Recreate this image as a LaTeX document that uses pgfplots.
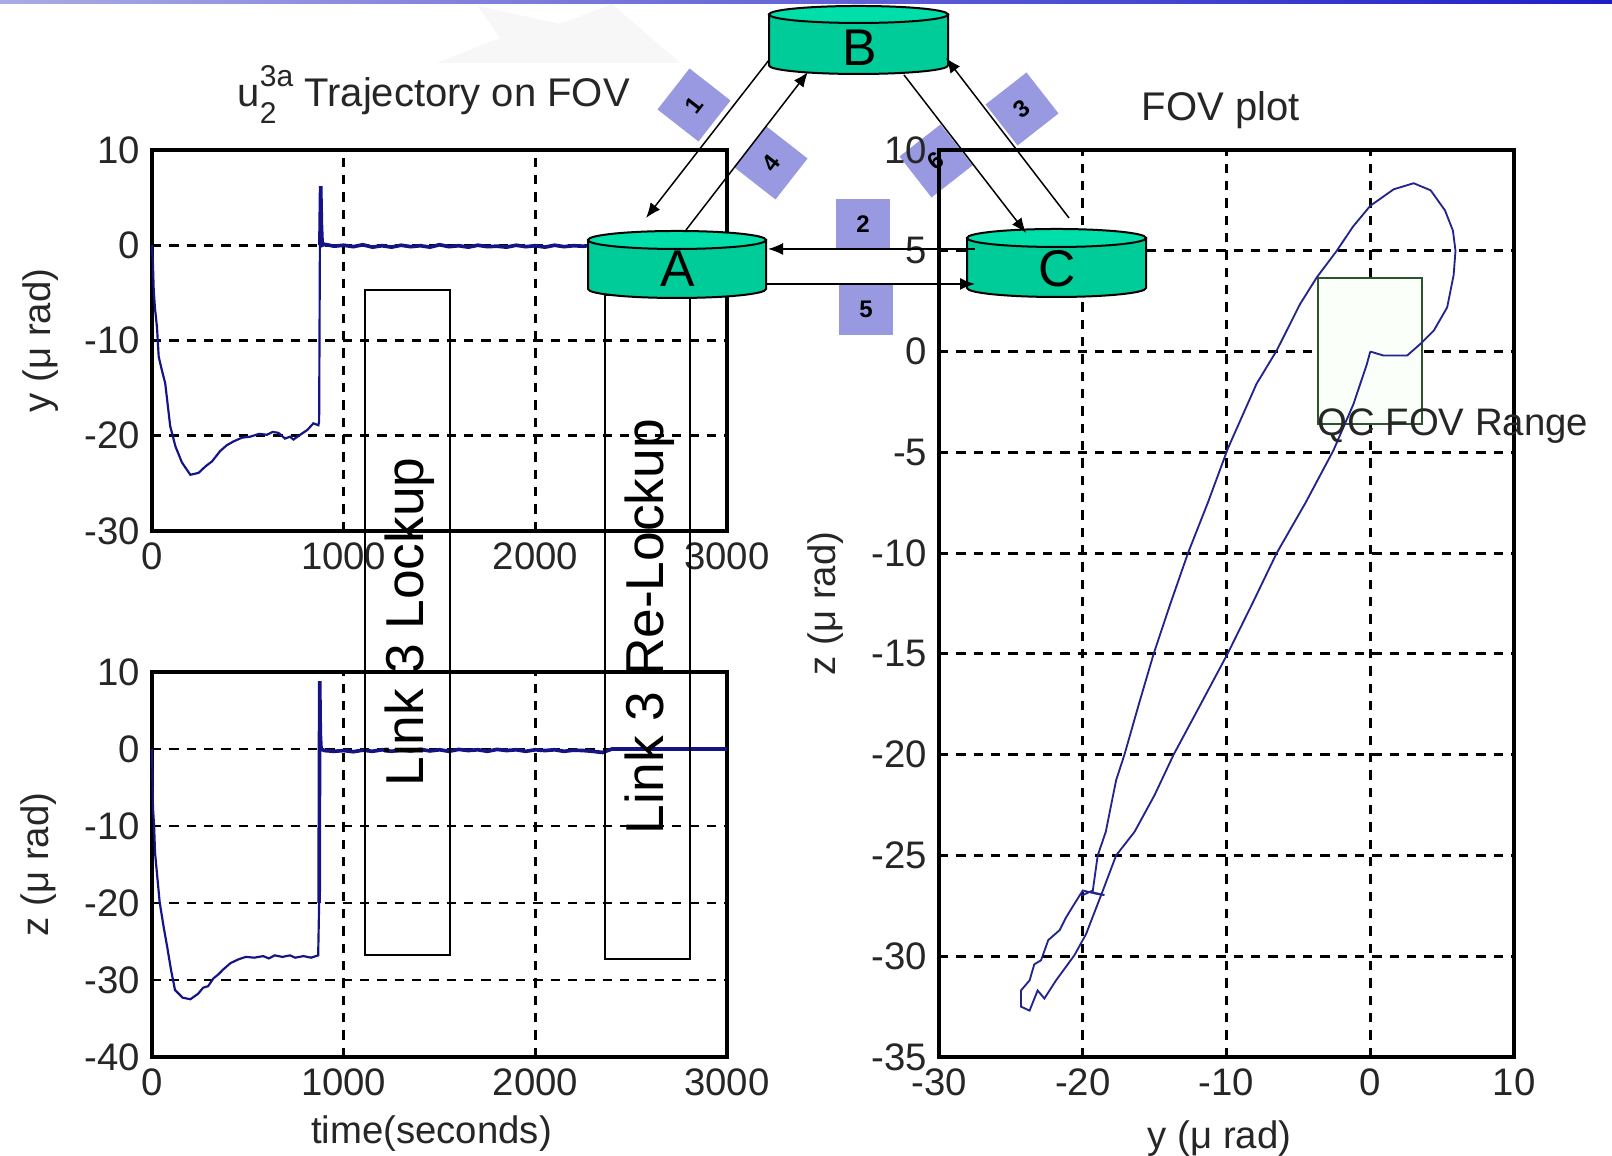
\documentclass[border=0pt]{standalone}
\usepackage{fontspec}
\setmainfont{Liberation Sans}
\usepackage{pgfplots}
\pgfplotsset{compat=1.18}
\usetikzlibrary{arrows.meta}
\definecolor{navy}{RGB}{20,20,135}
\definecolor{fovline}{RGB}{35,35,140}
\definecolor{cylbody}{RGB}{0,204,153}
\definecolor{cyltop}{RGB}{0,222,170}
\definecolor{lav}{RGB}{153,153,225}
\definecolor{qcgreen}{RGB}{45,85,45}
\newcommand{\lbl}{\fontsize{11.5}{13}\selectfont}
\newcommand{\ttl}{\fontsize{12}{14}\selectfont}
\pgfplotsset{
  matlab/.style={
    scale only axis,
    anchor=south west,
    clip=false,
    axis line style={line width=1pt},
    grid=major,
    major grid style={black, line width=0.85pt, dash pattern=on 2.8pt off 2.4pt},
    major tick length=0pt,
    tick label style={font=\lbl, color=black!85},
    label style={font=\lbl, color=black!85},
    title style={font=\ttl, color=black!85},
  }
}
\begin{document}
\begin{tikzpicture}
\useasboundingbox (0,0) rectangle (483.6pt,346.8pt);
\fill[white] (0,0) rectangle (483.6pt,346.8pt);
\begin{scope}[x=0.3pt,y=-0.3pt,shift={(0pt,346.8pt)}]
  % watermark
  \fill[black!3] (437,63) -- (500,38) -- (478,6) -- (560,24) -- (612,4) -- (680,63) -- cycle;
  % top bar
  \shade[left color={rgb,255:red,170;green,170;blue,230}, right color={rgb,255:red,30;green,30;blue,200}] (0,0) rectangle (1612,3.5);
  % diamonds and squares
  \begin{scope}[every node/.style={fill=lav, inner sep=0pt, font=\bfseries\fontsize{7.2}{8}\selectfont}]
    \node[minimum size=15.6pt, rotate=52] at (694,105) {1};
    \node[minimum size=15.6pt, rotate=52] at (771,163) {4};
    \node[minimum size=15.6pt, rotate=38] at (1022,109) {3};
    \node[minimum size=15.6pt, rotate=38] at (936,161) {6};
    \node[minimum width=16.2pt, minimum height=15.3pt] at (863,224.5) {2};
    \node[minimum width=16.2pt, minimum height=15.3pt] at (866,309.5) {5};
  \end{scope}
\end{scope}

% ---------- top-left: y vs time ----------
\begin{axis}[matlab, at={(45.6pt,187.5pt)}, width=172.5pt, height=114.3pt,
  xmin=0, xmax=3000, ymin=-30, ymax=10,
  xtick={0,1000,2000,3000}, xticklabels={0,1000,2000,3000},
  ytick={-30,-20,-10,0,10}, yticklabels={-30,-20,-10,0,10},
  ylabel={y (μ rad)}, ylabel style={at={(axis description cs:-0.193,0.5)}, anchor=center},
  title={u\rlap{\raisebox{-0.42em}{\fontsize{9}{10}\selectfont 2}}\raisebox{0.5em}{\fontsize{9}{10}\selectfont 3a} Trajectory on FOV},
  title style={at={(axis description cs:0.49,1.062)}, anchor=base},
]
\addplot[navy, line width=0.65pt] coordinates {
(0,0) (5,-2) (9,-4.7) (15,-6.5) (26,-8.6) (35,-11.7) (50,-13) (69,-14.5) (95,-19) (122,-21.1)
(156,-22.8) (200,-24.1) (243,-23.9) (280,-23.2) (313,-22.7) (356,-21.6) (390,-21) (425,-20.6)
(470,-20.2) (512,-20.1) (560,-19.8) (599,-19.9) (630,-19.6) (660,-19.7) (694,-20.3) (720,-20.1)
(738,-20.4) (773,-19.9) (810,-19.4) (842,-18.7) (868,-18.9) (872,-18.5) (876,0)
};
\addplot[navy, line width=1.1pt] coordinates {
(876,0) (880,6.2) (884,2)
(888,0) (900,0.1) (950,-0.1) (1000,0) (1050,-0.15) (1100,0.05) (1150,-0.2) (1200,-0.05) (1250,-0.2)
(1300,0) (1350,-0.15) (1400,-0.05) (1450,-0.2) (1500,0.05) (1550,-0.15) (1600,-0.05) (1650,-0.2)
(1700,0) (1750,-0.15) (1800,-0.1) (1850,-0.2) (1900,0) (1950,-0.15) (2000,-0.05) (2050,-0.2)
(2100,0) (2150,-0.15) (2200,-0.05) (2250,-0.1) (2300,0) (2350,-0.1) (2400,0) (2600,0) (2800,0) (3000,0)
};
\end{axis}

% ---------- bottom-left: z vs time ----------
\begin{axis}[matlab, at={(45.6pt,29.7pt)}, width=172.5pt, height=115.5pt,
  xmin=0, xmax=3000, ymin=-40, ymax=10,
  xtick={0,1000,2000,3000}, xticklabels={0,1000,2000,3000},
  ytick={-40,-30,-20,-10,0,10}, yticklabels={-40,-30,-20,-10,0,10},
  ylabel={z (μ rad)}, ylabel style={at={(axis description cs:-0.197,0.5)}, anchor=center},
  xlabel={time(seconds)}, xlabel style={at={(axis description cs:0.486,-0.2)}, anchor=center},
]
\addplot[navy, line width=0.65pt] coordinates {
(0,0) (3,-4) (5,-7.6) (11,-10) (16,-13.5) (40,-19.9) (60,-23) (80,-25.8) (100,-28.8) (120,-31.3)
(160,-32.3) (200,-32.5) (240,-31.8) (267,-31) (293,-30.8) (320,-29.8) (345,-29.3) (373,-28.6)
(410,-27.8) (453,-27.3) (490,-27.0) (533,-27.1) (580,-26.9) (610,-27.2) (640,-26.8) (680,-27.0)
(720,-26.8) (747,-27.1) (790,-26.9) (830,-27.1) (867,-26.8) (872,-20)
};
\addplot[navy, line width=1.1pt] coordinates {
(872,-20) (875,8.8) (878,2) (882,0)
(900,-0.2) (950,-0.3) (1000,-0.2) (1050,-0.35) (1100,-0.15) (1150,-0.3) (1200,-0.1) (1250,-0.3)
(1300,-0.1) (1350,-0.25) (1400,-0.05) (1450,-0.25) (1500,-0.1) (1550,-0.3) (1600,-0.05) (1650,-0.2)
(1700,-0.1) (1750,-0.3) (1800,-0.05) (1850,-0.2) (1900,-0.1) (1950,-0.3) (2000,-0.1) (2050,-0.2)
(2100,-0.1) (2150,-0.3) (2200,-0.15) (2250,-0.2) (2300,-0.3) (2350,-0.45) (2400,0) (2600,0) (2800,0) (3000,0)
};
\end{axis}

% ---------- right: FOV plot ----------
\begin{axis}[matlab, at={(281.7pt,29.7pt)}, width=172.5pt, height=272.1pt,
  xmin=-30, xmax=10, ymin=-35, ymax=10,
  xtick={-30,-20,-10,0,10}, xticklabels={-30,-20,-10,0,10},
  ytick={-35,-30,-25,-20,-15,-10,-5,0,5,10},
  yticklabels={-35,-30,-25,-20,-15,-10,-5,0,5,10},
  ylabel={z (μ rad)}, ylabel style={at={(axis description cs:-0.197,0.5)}, anchor=center},
  xlabel={y (μ rad)}, xlabel style={at={(axis description cs:0.488,-0.09)}, anchor=center},
  title={FOV plot}, title style={at={(axis description cs:0.49,1.011)}, anchor=base},
]
\draw[qcgreen, line width=0.6pt, fill=green!2] (axis cs:-3.65,-3.6) rectangle (axis cs:3.6,3.65);
\addplot[fovline, line width=0.55pt] coordinates {
(0,0) (-0.23,-0.61) (-1.16,-2.59) (-2.56,-4.9) (-4.5,-7.5) (-6.51,-10) (-8.2,-12.5) (-9.93,-15)
(-11.8,-17.5) (-13.68,-20) (-15.0,-22) (-16.4,-23.83) (-17.68,-25) (-18.6,-26.74) (-19.77,-28.9)
(-20.58,-29.95) (-21.86,-31.2) (-22.67,-32.1) (-23.14,-31.7) (-23.7,-32.7) (-24.3,-32.5) (-24.3,-31.7)
(-23.7,-31.2) (-23.37,-30.4) (-22.9,-30.2) (-22.4,-29.2) (-21.6,-28.7) (-21.16,-28.07) (-20.58,-27.4)
(-20.0,-26.74) (-19.07,-26.9) (-18.49,-26.97) (-19.5,-26.8) (-20.1,-27.0) (-19.3,-26.74)
(-18.96,-25) (-18.4,-23.83) (-17.68,-21.27) (-17.1,-20) (-16.1,-17.5) (-15.07,-15) (-13.9,-12.5)
(-12.68,-10) (-11.3,-7.5) (-9.9,-4.8) (-7.91,-1.6) (-6.51,0.05) (-4.88,2.36) (-3.72,3.68) (-2.33,5.0)
(-1.2,6.2) (0,7.23) (1.63,8.05) (3.02,8.35) (4.2,8.0) (5.2,7.0) (5.75,6.0) (5.93,5.0) (5.8,3.8)
(5.35,2.19) (4.42,1.04) (3.49,0.38) (2.56,-0.2) (0.93,-0.2) (0,0)
};
\node[anchor=base west, font=\lbl, color=black!85, inner sep=0pt] at (axis cs:-3.72,-4.17) {QC FOV Range};
\end{axis}

% ---------- overlay diagram ----------
\begin{scope}[x=0.3pt,y=-0.3pt,shift={(0pt,346.8pt)}]
  % Link boxes
  \draw[black, line width=0.45pt] (365,290) rectangle (450,955);
  \draw[black, line width=0.45pt] (605,295) rectangle (690,959);
  \node[rotate=90, anchor=base, inner sep=0pt, font=\fontsize{16}{18}\selectfont] at (423,622) {Link 3 Lockup};
  \node[rotate=90, anchor=base, inner sep=0pt, font=\fontsize{16}{18}\selectfont] at (663,626.5) {Link 3 Re-Lockup};
  % cylinder A
  \filldraw[fill=cylbody, draw=black, line width=0.6pt] (588,240) -- (588,289) arc[start angle=180,end angle=0,x radius=89,y radius=9] -- (766,240) -- cycle;
  \filldraw[fill=cyltop, draw=black, line width=0.6pt] (677,240) ellipse[x radius=89, y radius=9];
  \node[font=\fontsize{15.5}{16}\selectfont] at (678,268.5) {A};
  % cylinder B
  \filldraw[fill=cylbody, draw=black, line width=0.6pt] (769,14.5) -- (769,65.5) arc[start angle=180,end angle=0,x radius=89.5,y radius=8.5] -- (948,14.5) -- cycle;
  \filldraw[fill=cyltop, draw=black, line width=0.6pt] (858.5,14.5) ellipse[x radius=89.5, y radius=8.5];
  \node[font=\fontsize{15.5}{16}\selectfont] at (860,47.5) {B};
  % cylinder C
  \filldraw[fill=cylbody, draw=black, line width=0.6pt] (967,238) -- (967,288) arc[start angle=180,end angle=0,x radius=89.5,y radius=9] -- (1146,238) -- cycle;
  \filldraw[fill=cyltop, draw=black, line width=0.6pt] (1056.5,238) ellipse[x radius=89.5, y radius=9];
  \node[font=\fontsize{15.5}{16}\selectfont] at (1057,269) {C};
  % arrows
  \begin{scope}[line width=0.45pt, -{Latex[length=4.5pt,width=3.6pt]}]
    \draw (769,60) -- (646,218);
    \draw (686,230) -- (808,72);
    \draw (904,75) -- (1026,233);
    \draw (1069,218) -- (946,58);
    \draw (975,249) -- (768,249);
    \draw (767,284) -- (975,284);
  \end{scope}
\end{scope}
\end{tikzpicture}
\end{document}
